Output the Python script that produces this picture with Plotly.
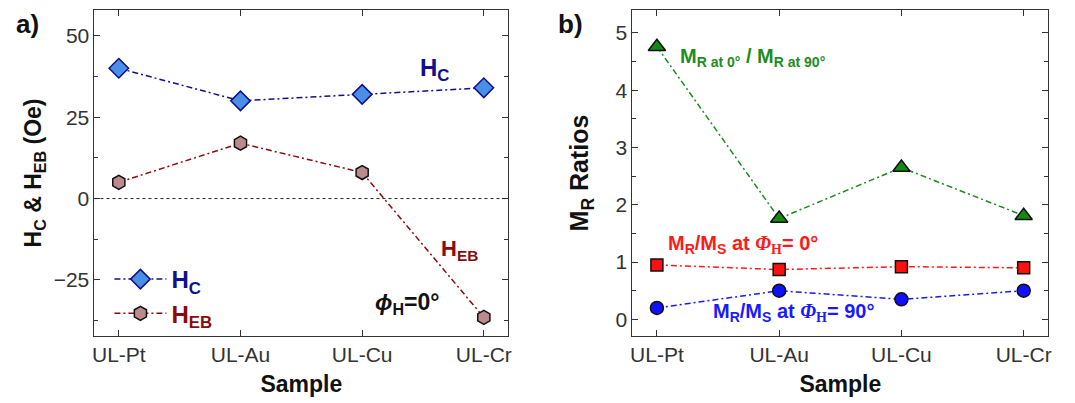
import plotly.graph_objects as go

samples = ["UL-Pt", "UL-Au", "UL-Cu", "UL-Cr"]
hc = [40, 30, 32, 34]
heb = [5, 17, 8, -36.5]
mr_ratio_0_90 = [4.76, 1.76, 2.65, 1.81]
mr_ms_0 = [0.95, 0.87, 0.92, 0.9]
mr_ms_90 = [0.2, 0.5, 0.35, 0.5]

NAVY = "#10108c"
DRED = "#8b0a0a"
GREEN = "#1e8c1e"
RED = "#ff1a1a"
BLUE = "#1a1aff"
DASH = "6px,3px,2px,3px"

fig = go.Figure()
xi = list(range(len(samples)))

fig.add_trace(go.Scatter(
    x=xi, y=hc, mode="lines+markers", xaxis="x", yaxis="y",
    name=f"<span style='color:{NAVY}'><b>H<sub>C</sub></b></span>", legendgroup="a",
    line=dict(color=NAVY, width=1.5, dash=DASH),
    marker=dict(symbol="diamond", size=15, color="#4a8fe6", line=dict(color=NAVY, width=1.5))))
fig.add_trace(go.Scatter(
    x=xi, y=heb, mode="lines+markers", xaxis="x", yaxis="y",
    name=f"<span style='color:{DRED}'><b>H<sub>EB</sub></b></span>", legendgroup="b",
    line=dict(color=DRED, width=1.5, dash=DASH),
    marker=dict(symbol="hexagon", size=14, color="#bc8a8a", line=dict(color="#111111", width=1.5))))

fig.add_trace(go.Scatter(
    x=xi, y=mr_ratio_0_90, mode="lines+markers", xaxis="x2", yaxis="y2", showlegend=False,
    line=dict(color=GREEN, width=1.5, dash=DASH),
    marker=dict(symbol="triangle-up", size=15, color="#138a13", line=dict(color="#111111", width=1.5))))
fig.add_trace(go.Scatter(
    x=xi, y=mr_ms_0, mode="lines+markers", xaxis="x2", yaxis="y2", showlegend=False,
    line=dict(color=RED, width=1.5, dash=DASH),
    marker=dict(symbol="square", size=12, color="#ff1010", line=dict(color="#111111", width=1.5))))
fig.add_trace(go.Scatter(
    x=xi, y=mr_ms_90, mode="lines+markers", xaxis="x2", yaxis="y2", showlegend=False,
    line=dict(color=BLUE, width=1.5, dash=DASH),
    marker=dict(symbol="circle", size=13, color="#1010ff", line=dict(color="#111111", width=1.5))))

tickfont = dict(family="Liberation Sans, Arial, sans-serif", size=21, color="#333333")
titlefont_x = dict(family="Liberation Sans, Arial, sans-serif", size=23, color="#111111")

def xax(domain, anchor):
    return dict(domain=domain, anchor=anchor, range=[-0.2, 3.2], tickmode="array",
                tickvals=xi, ticktext=samples, ticks="inside", ticklen=6, tickcolor="#333",
                showline=True, linecolor="#333", linewidth=1, mirror="ticks",
                showgrid=False, zeroline=False, tickfont=tickfont,
                title=dict(text="<b>Sample</b>", font=titlefont_x, standoff=10))

def yax(domain, anchor, rng, dtick, minor, title, size, standoff):
    return dict(domain=domain, anchor=anchor, range=rng, dtick=dtick, tick0=0,
                ticks="inside", ticklen=6, tickcolor="#333",
                minor=dict(dtick=minor, ticks="inside", ticklen=4, tickcolor="#333"),
                showline=True, linecolor="#333", linewidth=1, mirror="ticks",
                showgrid=False, zeroline=False, tickfont=tickfont,
                title=dict(text=title, font=dict(family="Liberation Sans, Arial, sans-serif",
                                                 size=size, color="#111111"), standoff=standoff))

ydom = [1 - 336 / 403, 1 - 10 / 403]
fig.update_layout(
    width=1075, height=403, margin=dict(l=0, r=0, t=0, b=0),
    plot_bgcolor="white", paper_bgcolor="white",
    xaxis=xax([93 / 1075, 509 / 1075], "y"),
    yaxis=yax(ydom, "x", [-42.2, 57.9], 25, 12.5, "<b>H<sub>C</sub> & H<sub>EB</sub> (Oe)</b>", 23, 5),
    xaxis2=xax([634 / 1075, 1052 / 1075], "y2"),
    yaxis2=yax(ydom, "x2", [-0.29, 5.4], 1, 0.5, "<b>M<sub>R</sub> Ratios</b>", 25, 19),
    legend=dict(x=108 / 1075, y=1 - 257 / 403, xanchor="left", yanchor="top",
                bgcolor="rgba(0,0,0,0)", tracegroupgap=0, itemwidth=52,
                font=dict(family="Liberation Sans, Arial, sans-serif", size=24)),
    showlegend=True,
)

fig.add_shape(type="line", xref="x domain", yref="y", x0=0, x1=1, y0=0, y1=0,
              line=dict(color="#222", width=1, dash="dot"))

ann_font = "Liberation Sans, Arial, sans-serif"
SERIF = "style='font-family:Liberation Serif, Times New Roman, serif'"
anns = [
    dict(text="<b>a)</b>", x=12, y=24, size=26, color="#111"),
    dict(text="<b>b)</b>", x=557, y=24, size=26, color="#111"),
    dict(text="<b>H<sub>C</sub></b>", x=418, y=70, size=24, color=NAVY),
    dict(text="<b>H<sub>EB</sub></b>", x=439, y=250, size=22, color=DRED),
    dict(text="<b><i>ϕ</i><sub>H</sub>=0°</b>", x=373, y=303, size=23, color="#111"),
    dict(text="<b>M<sub>R at 0°</sub> / M<sub>R at 90°</sub></b>", x=680, y=57, size=20, color=GREEN),
    dict(text=f"<b>M<sub>R</sub>/M<sub>S</sub> at <span {SERIF}><i>Φ</i><sub>H</sub></span>= 0°</b>",
         x=668, y=245, size=20, color=RED),
    dict(text=f"<b>M<sub>R</sub>/M<sub>S</sub> at <span {SERIF}><i>Φ</i><sub>H</sub></span>= 90°</b>",
         x=713, y=312, size=20, color=BLUE),
]
for a in anns:
    fig.add_annotation(text=a["text"], xref="paper", yref="paper",
                       x=a["x"] / 1075, y=1 - a["y"] / 403, xanchor="left", yanchor="middle",
                       showarrow=False, font=dict(family=ann_font, size=a["size"], color=a["color"]))

fig.write_html("out.html")
